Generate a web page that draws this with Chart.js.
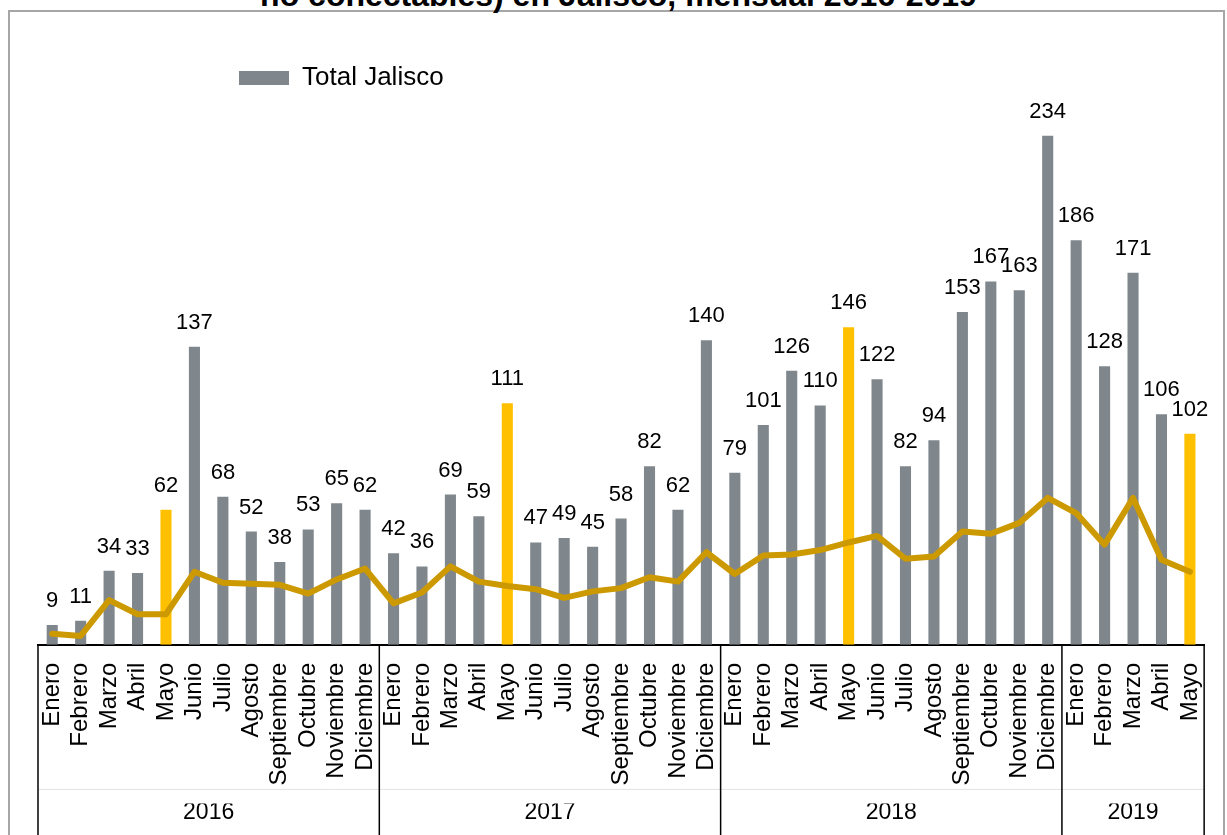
<!DOCTYPE html>
<html>
<head>
<meta charset="utf-8">
<script src="https://cdn.jsdelivr.net/npm/chart.js@4.4.1/dist/chart.umd.min.js"></script>
<style>
  html, body { margin: 0; padding: 0; background: #fff; overflow: hidden; }
  body { width: 1227px; height: 835px; position: relative; font-family: 'Liberation Sans', Arial, sans-serif; }
  #marco { position: absolute; left: 8px; top: 10px; width: 1213px; height: 900px; border: 2px solid #a6a6a6; }
  #titulo { position: absolute; left: 5px; top: -21px; width: 1227px; text-align: center; font-weight: bold; font-size: 32px; line-height: 32px; color: #000; white-space: nowrap; }
  #contenedor { position: absolute; left: 0; top: 0; width: 1237px; height: 835px; }
</style>
</head>
<body>
<div id="marco"></div>
<div id="titulo">no conectables) en Jalisco, mensual 2016-2019</div>
<div id="contenedor"><canvas id="grafica"></canvas></div>
<script>
// meses y años del eje
const nombresMes = ['Enero', 'Febrero', 'Marzo', 'Abril', 'Mayo', 'Junio', 'Julio', 'Agosto', 'Septiembre', 'Octubre', 'Noviembre', 'Diciembre'];
const anios = ['2016', '2017', '2018', '2019'];
const mesesPorAnio = [12, 12, 12, 5];

// altura de las barras (Total Jalisco)
const totales = [
  9, 11, 34, 33, 62, 137, 68, 52, 38, 53, 65, 62,
  42, 36, 69, 59, 111, 47, 49, 45, 58, 82, 62, 140,
  79, 101, 126, 110, 146, 122, 82, 94, 153, 167, 163, 234,
  186, 128, 171, 106, 97
];
// etiquetas impresas sobre las barras
const etiquetas = [
  9, 11, 34, 33, 62, 137, 68, 52, 38, 53, 65, 62,
  42, 36, 69, 59, 111, 47, 49, 45, 58, 82, 62, 140,
  79, 101, 126, 110, 146, 122, 82, 94, 153, 167, 163, 234,
  186, 128, 171, 106, 102
];
// linea dorada (sin etiquetas)
const linea = [
  5, 4, 20.5, 14, 14, 33.5, 28.5, 28, 27.5, 23.5, 30, 35,
  19, 24, 36, 29, 27, 25.5, 21.5, 24.5, 26, 31, 29, 42.5,
  32.5, 41, 41.5, 43.5, 47, 50, 39.5, 40.5, 52, 51, 56, 67.5,
  60.5, 46, 67.5, 39, 33.5
];

const categorias = anios.flatMap((a, i) => nombresMes.slice(0, mesesPorAnio[i]));
// limites y centros de cada año en el eje de categorias
const limites = [-0.5];
const centros = [];
mesesPorAnio.forEach(n => {
  const ini = limites[limites.length - 1];
  centros.push(ini + n / 2);
  limites.push(ini + n);
});

Chart.defaults.font.family = "'Liberation Sans', Arial, sans-serif";
Chart.defaults.color = '#000';

const etiquetasBarras = {
  id: 'etiquetasBarras',
  afterDatasetsDraw(chart) {
    const meta = chart.getDatasetMeta(1);
    const ctx = chart.ctx;
    ctx.save();
    ctx.font = "22px 'Liberation Sans', Arial, sans-serif";
    ctx.fillStyle = '#000';
    ctx.textAlign = 'center';
    ctx.textBaseline = 'alphabetic';
    meta.data.forEach((bar, i) => ctx.fillText(String(etiquetas[i]), bar.x, bar.y - 18));
    ctx.restore();
  }
};

const separadores = {
  id: 'separadores',
  afterDraw(chart) {
    const ctx = chart.ctx;
    const x = chart.scales.x;
    ctx.save();
    // raya tenue entre meses y años
    ctx.strokeStyle = '#e2e2e2';
    ctx.lineWidth = 1;
    ctx.beginPath();
    ctx.moveTo(x.left, x.bottom - 14);
    ctx.lineTo(x.right, x.bottom - 14);
    ctx.stroke();
    ctx.strokeStyle = '#000';
    ctx.lineWidth = 1.5;
    limites.forEach(b => {
      const px = x.getPixelForValue(b);
      ctx.beginPath();
      ctx.moveTo(px, x.top);
      ctx.lineTo(px, chart.height);
      ctx.stroke();
    });
    ctx.restore();
  }
};

// la leyenda va corrida a la derecha, como en el original
const leyendaIzq = {
  id: 'leyendaIzq',
  afterLayout(chart) {
    chart.legend.left = 229;
  }
};

new Chart(document.getElementById('grafica'), {
  type: 'bar',
  data: {
    labels: categorias,
    datasets: [
      {
        type: 'line',
        label: 'Tendencia',
        data: linea,
        borderColor: '#cc9900',
        borderWidth: 6,
        pointRadius: 0,
        tension: 0,
        borderJoinStyle: 'round',
        borderCapStyle: 'round',
        order: 0
      },
      {
        type: 'bar',
        label: 'Total Jalisco',
        data: totales,
        backgroundColor: ctx => categorias[ctx.dataIndex] === 'Mayo' ? '#ffc000' : '#7f878d',
        barPercentage: 0.39,
        categoryPercentage: 1,
        order: 1
      }
    ]
  },
  options: {
    responsive: true,
    maintainAspectRatio: false,
    animation: false,
    layout: { padding: { left: 38, right: 23, top: 55, bottom: 14 } },
    plugins: {
      legend: {
        position: 'top',
        align: 'start',
        labels: {
          filter: item => item.datasetIndex === 1,
          boxWidth: 50,
          boxHeight: 14,
          padding: 10,
          color: '#000',
          font: { size: 26 }
        }
      },
      tooltip: { enabled: false }
    },
    scales: {
      y: { display: false, min: 0, max: 250 },
      x: {
        position: 'bottom',
        grid: { display: false, drawTicks: false },
        border: { display: true, color: '#000', width: 2 },
        ticks: { minRotation: 90, maxRotation: 90, autoSkip: false, padding: 18, color: '#000', font: { size: 24 } }
      },
      anio: {
        type: 'linear',
        position: 'bottom',
        weight: 1,
        offset: false,
        min: -0.5,
        max: 40.5,
        grid: { display: false, drawTicks: false, offset: false },
        border: { display: false },
        afterBuildTicks: s => { s.ticks = centros.map(v => ({ value: v })); },
        ticks: { autoSkip: false, maxRotation: 0, padding: -5, color: '#000', font: { size: 23 }, callback: (v, i) => anios[i] }
      }
    }
  },
  plugins: [etiquetasBarras, separadores, leyendaIzq]
});
</script>
</body>
</html>
